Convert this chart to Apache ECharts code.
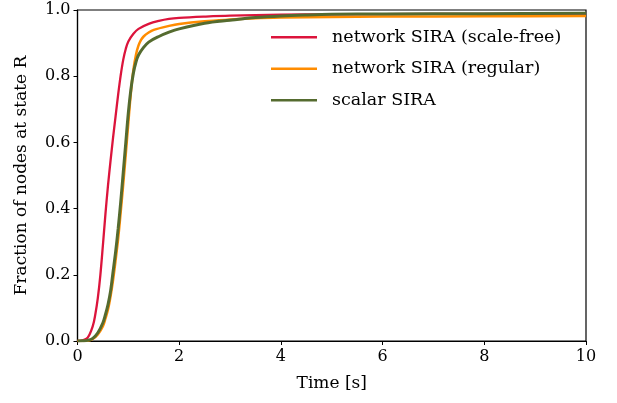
<!DOCTYPE html>
<html>
<head>
<meta charset="utf-8">
<script src="https://cdn.jsdelivr.net/npm/echarts@6/dist/echarts.min.js"></script>
<style>html,body{margin:0;padding:0;background:#fff}#c{width:617px;height:403px}</style>
</head>
<body>
<div id="c"></div>
<script>
var seriesNames = ['network SIRA (scale-free)', 'network SIRA (regular)', 'scalar SIRA'];
var xTicks = [0, 2, 4, 6, 8, 10];
var yTicks = [0.0, 0.2, 0.4, 0.6, 0.8, 1.0];

var timeRed = [0, 0.1, 0.2, 0.3, 0.35, 0.4, 0.45, 0.5, 0.55, 0.6, 0.65, 0.7, 0.75, 0.8, 0.85, 0.9, 0.95, 1.0, 1.1, 1.2, 1.4, 1.6, 1.8, 2.0, 2.5, 3, 4, 5, 7, 10];
var fracRed = [0, 0.002, 0.01, 0.045, 0.08, 0.13, 0.2, 0.29, 0.385, 0.47, 0.545, 0.615, 0.68, 0.745, 0.803, 0.85, 0.883, 0.905, 0.928, 0.943, 0.958, 0.967, 0.973, 0.976, 0.98, 0.983, 0.986, 0.987, 0.988, 0.989];

var timeOrange = [0, 0.2, 0.3, 0.4, 0.5, 0.55, 0.6, 0.65, 0.7, 0.75, 0.8, 0.85, 0.9, 0.95, 1.0, 1.05, 1.1, 1.15, 1.2, 1.25, 1.3, 1.4, 1.5, 1.8, 2.0, 2.5, 3.0, 3.5, 4, 5, 6, 8, 10];
var fracOrange = [0, 0.001, 0.006, 0.02, 0.045, 0.068, 0.095, 0.135, 0.185, 0.245, 0.31, 0.39, 0.475, 0.565, 0.66, 0.75, 0.82, 0.865, 0.893, 0.91, 0.92, 0.932, 0.94, 0.952, 0.958, 0.966, 0.971, 0.975, 0.977, 0.979, 0.98, 0.981, 0.982];

var timeGreen = [0, 0.1, 0.2, 0.3, 0.4, 0.5, 0.55, 0.6, 0.65, 0.7, 0.75, 0.8, 0.85, 0.9, 0.95, 1.0, 1.05, 1.1, 1.15, 1.2, 1.3, 1.4, 1.6, 1.8, 2.0, 2.5, 3.0, 3.5, 4.0, 4.5, 5, 6, 8, 10];
var fracGreen = [0, 0.0005, 0.002, 0.008, 0.025, 0.055, 0.08, 0.11, 0.15, 0.21, 0.27, 0.34, 0.42, 0.51, 0.6, 0.69, 0.76, 0.81, 0.843, 0.864, 0.887, 0.903, 0.92, 0.933, 0.943, 0.96, 0.969, 0.977, 0.982, 0.985, 0.987, 0.988, 0.989, 0.99];

function zip(a, b) { return a.map(function (v, i) { return [v, b[i]]; }); }

var FONT = 'DejaVu Serif';
var chart = echarts.init(document.getElementById('c'), null, {renderer: 'canvas'});
var axisCommon = {
  axisLine: {show: true, lineStyle: {color: '#000', width: 1.2}},
  axisTick: {show: true, inside: false, length: 4, lineStyle: {color: '#000', width: 1}},
  splitLine: {show: false},
  axisLabel: {color: '#000', fontFamily: FONT, fontSize: 16},
  nameTextStyle: {color: '#000', fontFamily: FONT, fontSize: 17}
};
chart.setOption({
  animation: false,
  backgroundColor: '#fff',
  grid: {left: 77.5, right: 31, top: 10, bottom: 62, show: true, borderColor: '#000', borderWidth: 1.2},
  legend: {
    data: seriesNames,
    orient: 'vertical',
    left: 271, top: 28,
    icon: 'rect', itemWidth: 46, itemHeight: 2.5, itemGap: 13,
    padding: 0,
    borderWidth: 0,
    textStyle: {color: '#000', fontFamily: FONT, fontSize: 17.5, lineHeight: 18.5, padding: [0, 0, 0, 10]}
  },
  xAxis: Object.assign({}, axisCommon, {
    type: 'value', min: 0, max: 10, interval: 2,
    name: 'Time [s]', nameLocation: 'middle', nameGap: 34,
    axisLabel: Object.assign({}, axisCommon.axisLabel, {margin: 8, formatter: function (v) { return xTicks.indexOf(v) >= 0 ? String(v) : ''; }})
  }),
  yAxis: Object.assign({}, axisCommon, {
    type: 'value', min: 0, max: 1, interval: 0.2,
    name: 'Fraction of nodes at state R', nameLocation: 'middle', nameGap: 47,
    axisLabel: Object.assign({}, axisCommon.axisLabel, {margin: 7, formatter: function (v) { return v.toFixed(1); }})
  }),
  series: [
    {name: seriesNames[0], type: 'line', data: zip(timeRed, fracRed), showSymbol: false, smooth: 0.35, lineStyle: {color: '#DC143C', width: 2.3}, itemStyle: {color: '#DC143C'}, z: 2},
    {name: seriesNames[1], type: 'line', data: zip(timeOrange, fracOrange), showSymbol: false, smooth: 0.35, lineStyle: {color: '#FF8C00', width: 2.5}, itemStyle: {color: '#FF8C00'}, z: 3},
    {name: seriesNames[2], type: 'line', data: zip(timeGreen, fracGreen), showSymbol: false, smooth: 0.35, lineStyle: {color: '#556B2F', width: 3}, itemStyle: {color: '#556B2F'}, z: 4}
  ]
});
</script>
</body>
</html>
